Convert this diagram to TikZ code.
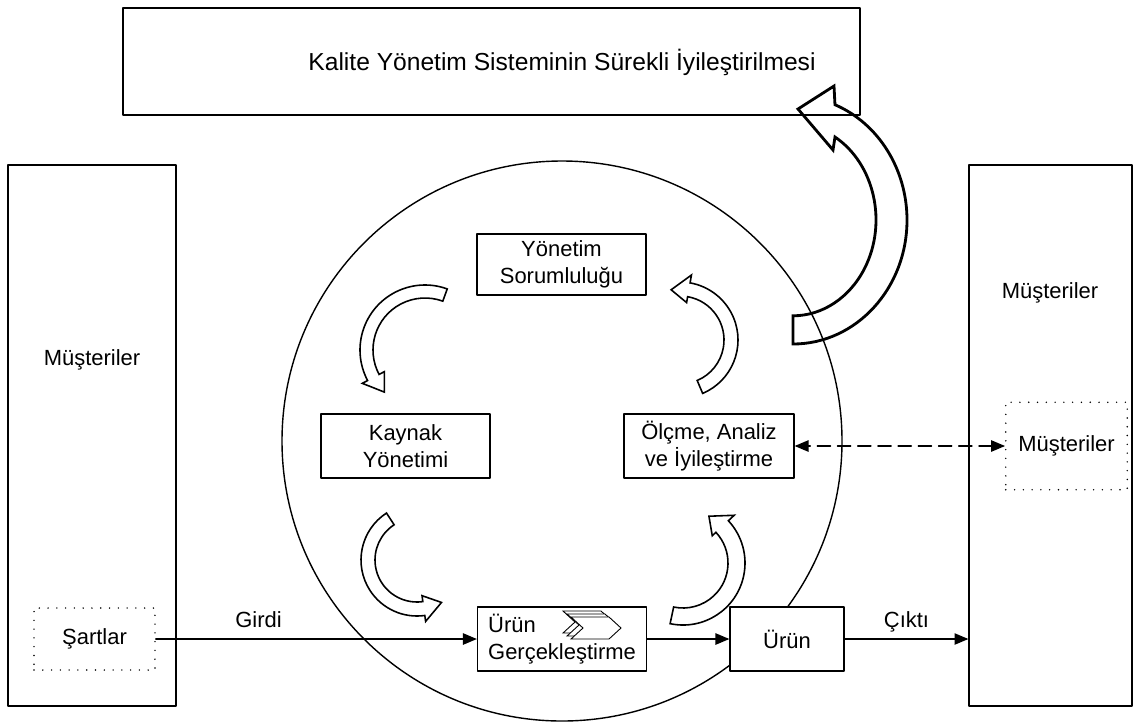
\documentclass[tikz,border=0pt]{standalone}
\usepackage{fontspec}
\setmainfont{Liberation Sans}
\usetikzlibrary{calc}
\usetikzlibrary{arrows}
\tikzstyle{every node}=[font=\fontsize{12.5}{15.3}\selectfont]
\tikzset{
  kutu/.style={draw,line width=0.8pt,fill=white,align=center,inner sep=0pt},
  noktali/.style={draw,line width=0.9pt,line cap=round,dash pattern=on 0pt off 5pt,fill=white,inner sep=0pt},
  ok/.style={->,line width=0.8pt},
  bukok/.style={line width=0.9pt,line join=miter,fill=white}
}
% kavisli blok ok: merkez, ic r, dis r, kuyruk, bas, uc, ic kanat, dis kanat
\newcommand{\bukuluok}[8]{%
  \draw[bukok,shift={(#1)}] (#4:#3) arc[start angle=#4,end angle=#5,radius=#3] -- (#5:#8) -- (#6:{(#2+#3)/2}) -- (#5:#7) -- (#5:#2) arc[start angle=#5,end angle=#4,radius=#2] -- cycle;}
\begin{document}
\begin{tikzpicture}[line cap=round,line join=round,>=triangle 45,x=0.02cm,y=-0.02cm]
\useasboundingbox (0,0) rectangle (1139,725);
\draw[line width=0.8pt] (562,441) circle (280);
\node[kutu,minimum width=14.74cm,minimum height=2.14cm] (kys) at (491.5,61.5) {};
\node[font=\fontsize{14}{17}\selectfont] (kysyazi) at (562,62) {Kalite Yönetim Sisteminin Sürekli İyileştirilmesi};
\node[kutu,minimum width=3.36cm,minimum height=10.82cm] (musteri1) at (92,435.5) {};
\node (musteri1yazi) at (92,360) {Müşteriler};
\node[kutu,minimum width=3.26cm,minimum height=10.82cm] (musteri2) at (1050.5,435.5) {};
\node (musteri2yazi) at (1050,293) {Müşteriler};
\node[noktali,minimum width=2.42cm,minimum height=1.24cm] (sartlar) at (94.5,639) {Şartlar};
\node[noktali,minimum width=2.43cm,minimum height=1.75cm] (musteri3) at (1066.5,446) {Müşteriler};
\node[kutu,minimum width=3.38cm,minimum height=1.22cm] (yonetim) at (561.5,264.5) {Yönetim\\Sorumluluğu};
\node[kutu,minimum width=3.38cm,minimum height=1.28cm] (kaynak) at (405.5,446) {Kaynak\\Yönetimi};
\node[kutu,minimum width=3.40cm,minimum height=1.28cm] (olcme) at (709,446) {Ölçme, Analiz\\ve İyileştirme};
\node[kutu,align=left,minimum width=3.38cm,minimum height=1.28cm] (urungerc) at (562,639) {Ürün\\Gerçekleştirme};
\node[kutu,minimum width=2.28cm,minimum height=1.28cm] (urun) at (787,639) {Ürün};
\foreach \k in {0,1,2}
  \draw[line width=0.5pt,line join=miter,fill=white,shift={(563+4*\k,611+3*\k)}] (0,0) -- (38,0) -- (50,11) -- (38,22) -- (0,22) -- (12,11) -- cycle;
\bukuluok{425,350}{52}{65}{-70}{-208}{-226}{46}{71}
\bukuluok{680,340}{44}{58}{67}{-80}{-100}{38}{66}
\bukuluok{417,560}{42}{56}{237}{82}{60}{36}{62}
\bukuluok{683,563}{45}{62}{102}{-43}{-61}{40}{70}
\draw[line width=1.6pt,line join=miter] (793,344) arc[start angle=90,end angle=-68.4,x radius=114,y radius=124] -- (834,86) -- (798,109) -- (833,150) -- (835,137) arc[start angle=-59.6,end angle=90,x radius=83,y radius=96] -- cycle;
\draw[ok] (sartlar.east) -- (sartlar.east -| urungerc.west) node[pos=0.32,above=3pt,text depth=0pt] {Girdi};
\draw[ok] (urungerc.east) -- (urun.west);
\draw[ok] (urun.east) -- (urun.east -| musteri2.west) node[midway,above=3pt,text depth=0pt] {Çıktı};
\draw[<->,line width=0.8pt,dash pattern=on 7.5pt off 4pt] (olcme.east) -- (musteri3.west);
\end{tikzpicture}
\end{document}
